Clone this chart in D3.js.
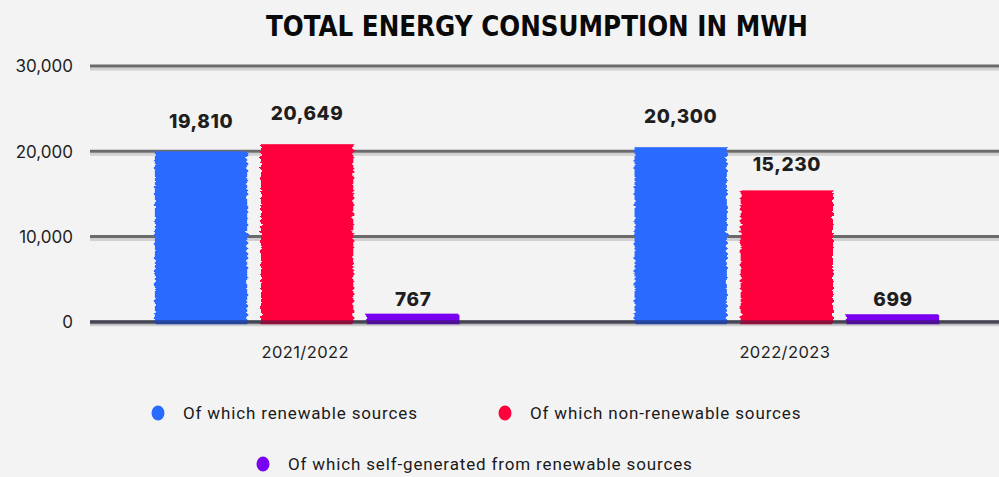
<!DOCTYPE html>
<html><head><meta charset="utf-8">
<script src="https://cdn.jsdelivr.net/npm/d3@7"></script>
<style>
html,body{margin:0;padding:0;background:#f3f3f3;}
svg{display:block;}
</style></head>
<body>
<svg id="chart" width="999" height="477"></svg>
<script>
const categories = ["2021/2022", "2022/2023"];
const seriesNames = ["Of which renewable sources", "Of which non-renewable sources", "Of which self-generated from renewable sources"];
const renewable = [19810, 20300];
const nonRenewable = [20649, 15230];
const selfGenerated = [767, 699];
const yTicks = [0, 10000, 20000, 30000];
const colors = ["#2a6bff", "#ff003c", "#7a00f0"];

const seriesValues = [renewable, nonRenewable, selfGenerated];
const W = 999, H = 477;
const svg = d3.select("#chart");
svg.append("rect").attr("width", W).attr("height", H).attr("fill", "#f3f3f3");

const defs = svg.append("defs");
const f = defs.append("filter").attr("id","rough").attr("x","-5%").attr("y","-5%").attr("width","110%").attr("height","110%");
f.append("feTurbulence").attr("type","fractalNoise").attr("baseFrequency","0.02 0.3").attr("numOctaves",2).attr("seed",5).attr("result","n0");
f.append("feColorMatrix").attr("in","n0").attr("type","matrix")
  .attr("values","1 0 0 0 0  0 0 0 0 0.5  0 0 0 0 0  0 0 0 0 1").attr("result","n");
f.append("feDisplacementMap").attr("in","SourceGraphic").attr("in2","n").attr("scale",6).attr("xChannelSelector","R").attr("yChannelSelector","G");

const x0 = 90, x1 = 999;
const y = d3.scaleLinear().domain([0, 30000]).range([321.7, 66]);
const xg = d3.scaleBand().domain(categories).range([x0 + 2.5, x1 + 2.5]).paddingInner(0.365).paddingOuter(0.13);
const xs = d3.scaleBand().domain(seriesNames).range([0, xg.bandwidth()]).paddingInner(0.13).paddingOuter(0);

// title
svg.append("text").attr("x", 537).attr("y", 36).attr("text-anchor","middle")
  .attr("font-family","'DejaVu Sans Condensed', 'DejaVu Sans', sans-serif").attr("font-weight","bold")
  .attr("font-size", 29).attr("fill","#0a0a0a")
  .attr("textLength", 542).attr("lengthAdjust","spacingAndGlyphs")
  .text("TOTAL ENERGY CONSUMPTION IN MWH");

// gridlines
const grid = svg.append("g");
yTicks.forEach(t => {
  grid.append("line").attr("x1", x0).attr("x2", x1).attr("y1", y(t)+3).attr("y2", y(t)+3)
    .attr("stroke", "#d0d0d0").attr("stroke-width", 3);
  grid.append("line").attr("x1", x0).attr("x2", x1).attr("y1", y(t)).attr("y2", y(t))
    .attr("stroke", "#6a6a6a").attr("stroke-width", 3);
});

// y axis labels
const yAxis = d3.axisLeft(y).tickValues(yTicks).tickFormat(d3.format(",")).tickSize(0).tickPadding(0);
const ya = svg.append("g").attr("transform", `translate(73,0)`).call(yAxis);
ya.select(".domain").remove();
ya.selectAll("text").attr("font-family","Inter, 'Noto Sans', sans-serif").attr("font-size", 17).attr("fill","#1e1e1e").attr("dy","0.35em");

// bars
const groups = svg.append("g").selectAll("g").data(categories).join("g")
  .attr("transform", d => `translate(${xg(d)},0)`);
const barData = (c, ci) => seriesNames.map((s, si) => ({c, s, si, v: seriesValues[si][ci]}));
groups.each(function(c, ci) {
  const g = d3.select(this);
  const data = barData(c, ci);
  g.selectAll("rect.bar").data(data).join("rect").attr("class","bar")
    .attr("x", d => xs(d.s)).attr("width", xs.bandwidth())
    .attr("y", d => y(d.v) - 1.5).attr("height", d => y(0) - y(d.v) + 4)
    .attr("fill", d => colors[d.si]).attr("filter","url(#rough)");
  g.selectAll("text.val").data(data).join("text").attr("class","val")
    .attr("x", d => xs(d.s) + xs.bandwidth()/2).attr("y", d => y(d.v) - 9 - d.v * 0.0008)
    .attr("text-anchor","middle").attr("font-family","Inter, 'Noto Sans', sans-serif")
    .attr("font-weight", 800).attr("font-size", 19).attr("letter-spacing", 0.6).attr("fill","#1e1e1e")
    .text(d => d3.format(",")(d.v));
});

// baseline over bars
svg.append("line").attr("x1", x0).attr("x2", x1).attr("y1", y(0)+0.5).attr("y2", y(0)+0.5)
  .attr("stroke","rgba(30,30,60,0.5)").attr("stroke-width", 4);

// x axis labels
const xAxis = d3.axisBottom(xg).tickSize(0).tickPadding(0);
const xa = svg.append("g").attr("transform", `translate(-2,352)`).call(xAxis);
xa.select(".domain").remove();
xa.selectAll("text").attr("font-family","Inter, 'Noto Sans', sans-serif").attr("font-size", 16.5).attr("letter-spacing", 0.4).attr("fill","#1e1e1e").attr("dy","0.35em");

// legend
const legendPos = [[158, 413], [505, 413], [263, 464]];
const lg = svg.append("g").selectAll("g").data(seriesNames).join("g")
  .attr("transform", (d,i) => `translate(${legendPos[i][0]},${legendPos[i][1]})`);
lg.append("ellipse").attr("rx", 6.5).attr("ry", 7.5).attr("fill", (d,i) => colors[i]);
lg.append("text").attr("x", 25).attr("dy","0.35em")
  .attr("font-family","'Roboto', 'Noto Sans', sans-serif").attr("font-size", 17).attr("letter-spacing", 0.85).attr("fill","#1a1a1a")
  .text(d => d);
</script>
</body></html>
